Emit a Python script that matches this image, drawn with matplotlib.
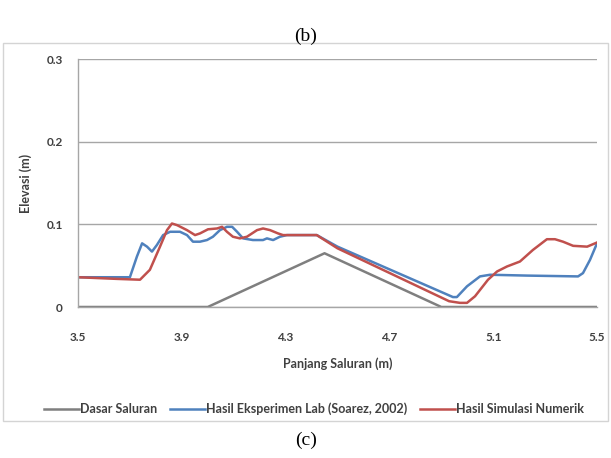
import matplotlib.pyplot as plt
from matplotlib.patches import Rectangle

# data
dasar_x = [3.5, 4.0, 4.45, 4.9, 5.5]
dasar_y = [0, 0, 0.065, 0, 0]

lab_x = [3.5, 3.70, 3.727, 3.747, 3.766, 3.785, 3.804, 3.828, 3.855, 3.893, 3.920,
         3.943, 3.970, 3.997, 4.020, 4.047, 4.074, 4.094, 4.113, 4.136, 4.174,
         4.213, 4.228, 4.252, 4.278, 4.305, 4.42, 4.50, 4.945, 4.960, 4.999,
         5.049, 5.088, 5.23, 5.427, 5.446, 5.473, 5.5]
lab_y = [0.036, 0.036, 0.061, 0.077, 0.073, 0.067, 0.075, 0.087, 0.091, 0.091, 0.087,
         0.079, 0.079, 0.081, 0.085, 0.093, 0.097, 0.097, 0.091, 0.083, 0.081,
         0.081, 0.083, 0.081, 0.085, 0.087, 0.087, 0.073, 0.012, 0.012, 0.025,
         0.037, 0.039, 0.038, 0.037, 0.041, 0.057, 0.077]

sim_x = [3.5, 3.65, 3.739, 3.777, 3.816, 3.843, 3.862, 3.882, 3.920, 3.951, 3.970,
         4.001, 4.036, 4.055, 4.074, 4.097, 4.124, 4.151, 4.190, 4.213, 4.240,
         4.271, 4.290, 4.42, 4.50, 4.93, 4.972, 4.999, 5.03, 5.08, 5.115, 5.153,
         5.203, 5.253, 5.307, 5.338, 5.369, 5.408, 5.462, 5.5]
sim_y = [0.036, 0.034, 0.033, 0.045, 0.073, 0.093, 0.101, 0.099, 0.093, 0.087, 0.089,
         0.094, 0.095, 0.097, 0.091, 0.085, 0.083, 0.085, 0.093, 0.095, 0.093,
         0.089, 0.087, 0.087, 0.071, 0.007, 0.005, 0.005, 0.013, 0.033, 0.043, 0.049,
         0.055, 0.069, 0.082, 0.082, 0.079, 0.074, 0.073, 0.078]

xticks = [3.5, 3.9, 4.3, 4.7, 5.1, 5.5]
yticks = [0, 0.1, 0.2, 0.3]

fnt = ['Liberation Sans Narrow', 'Lato', 'DejaVu Sans']
plt.rcParams['font.family'] = fnt

fig = plt.figure(figsize=(6.11, 4.58), dpi=100)
fig.patch.set_facecolor('white')

# grey frame of the chart
fig.patches.append(Rectangle((3/611, 1-421/458), 605/611, 378/458, transform=fig.transFigure,
                             fill=False, edgecolor='#d4d4d4', lw=1.0))

ax = fig.add_axes([78/611, 1-307/458, 519/611, 248/458])
ax.plot(dasar_x, dasar_y, color='#7f7f7f', lw=1.8, label='Dasar Saluran')
ax.plot(lab_x, lab_y, color='#4f81bd', lw=1.8, label='Hasil Eksperimen Lab (Soarez, 2002)')
ax.plot(sim_x, sim_y, color='#c0504d', lw=1.8, label='Hasil Simulasi Numerik')

ax.set_xlim(3.5, 5.5)
ax.set_ylim(0, 0.3)
ax.set_xticks(xticks)
ax.set_xticklabels([str(t) for t in xticks])
ax.set_yticks(yticks)
ax.set_yticklabels(['0', '0.1', '0.2', '0.3'])
ax.grid(axis='y', color='#a6a6a6', lw=1.0)
ax.set_axisbelow(True)
for s in ['top', 'right']:
    ax.spines[s].set_visible(False)
for s in ['left', 'bottom']:
    ax.spines[s].set_color('#a6a6a6')
    ax.spines[s].set_linewidth(1.0)
ax.tick_params(length=0, labelsize=8.5, colors='#404040')
ax.tick_params(axis='x', pad=18)
ax.tick_params(axis='y', pad=11)
for lbl in ax.get_xticklabels() + ax.get_yticklabels():
    lbl.set_fontweight('bold')

ax.set_xlabel('Panjang Saluran (m)', fontsize=9, fontweight='bold', color='#404040', labelpad=10)
ax.set_ylabel('Elevasi (m)', fontsize=9, fontweight='bold', color='#404040', labelpad=10)

leg = fig.legend(loc='center', bbox_to_anchor=(314/611, 1-409/458), ncol=3, frameon=False,
                 handlelength=2.8, handletextpad=0.1, columnspacing=1.0,
                 prop={'size': 9, 'weight': 'bold'})
for t in leg.get_texts():
    t.set_color('#404040')

fig.text(306/611, 1-36/458, '(b)', ha='center', va='center', fontsize=14, family='Liberation Serif')
fig.text(306/611, 1-440/458, '(c)', ha='center', va='center', fontsize=14, family='Liberation Serif')

fig.savefig('out.png', dpi=100)
